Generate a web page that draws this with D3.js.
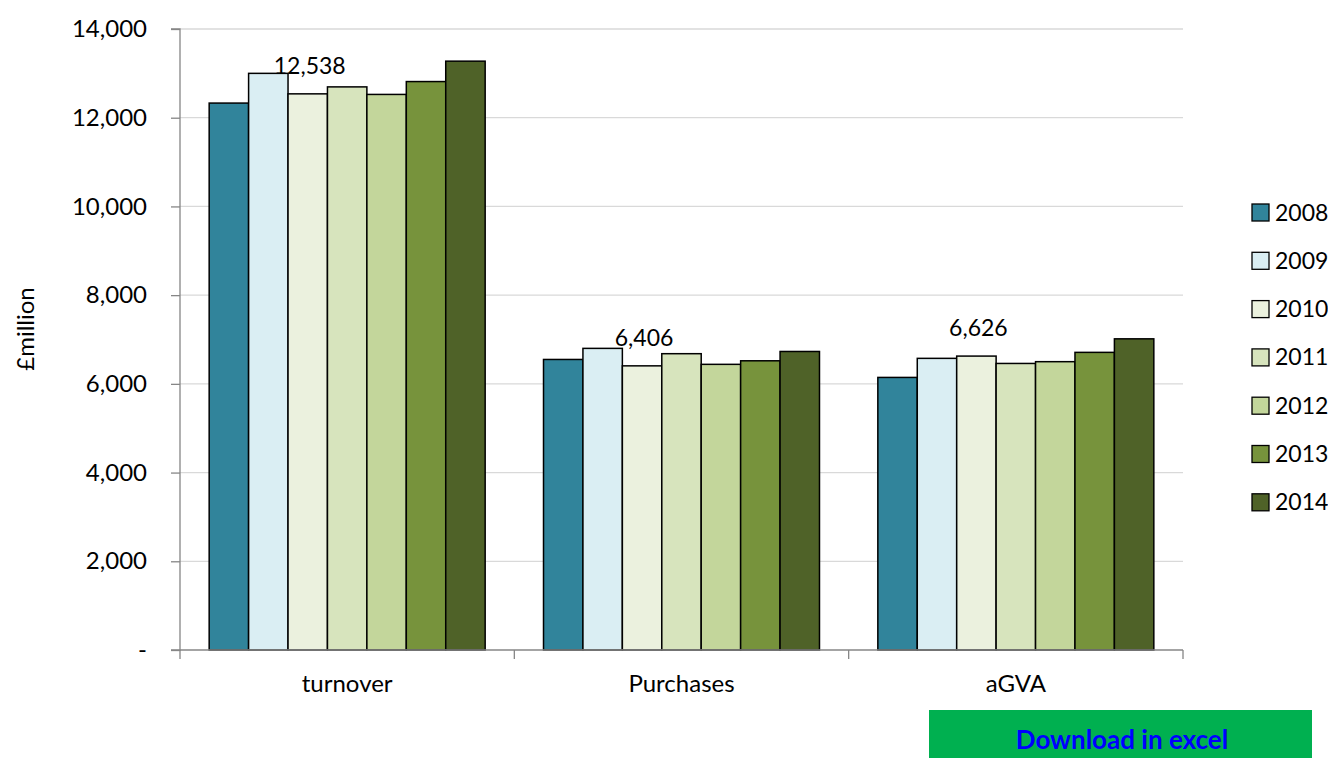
<!DOCTYPE html>
<html>
<head>
<meta charset="utf-8">
<script src="https://cdn.jsdelivr.net/npm/d3@7"></script>
<style>
  html, body { margin: 0; padding: 0; background: #fff; }
  svg { display: block; font-family: Lato, "Open Sans", sans-serif; }
</style>
</head>
<body>
<svg id="chart" width="1328" height="758"></svg>
<script>
const categories = ["turnover", "Purchases", "aGVA"];
const years = ["2008", "2009", "2010", "2011", "2012", "2013", "2014"];
const values2008 = [12330, 6550, 6145];
const values2009 = [13000, 6800, 6575];
const values2010 = [12538, 6406, 6626];
const values2011 = [12695, 6680, 6460];
const values2012 = [12525, 6440, 6500];
const values2013 = [12815, 6520, 6710];
const values2014 = [13275, 6730, 7015];
const seriesValues = [values2008, values2009, values2010, values2011, values2012, values2013, values2014];
const colors = ["#31849B", "#DAEEF3", "#EBF1DE", "#D7E4BD", "#C3D69B", "#77933C", "#4F6228"];
const yTicks = [0, 2000, 4000, 6000, 8000, 10000, 12000, 14000];
const labelledYear = "2010";

const svg = d3.select("#chart");
const pLeft = 180, pRight = 1183, pTop = 29, pBottom = 650;

const y = d3.scaleLinear().domain([0, 14000]).range([pBottom, pTop]);
const x0 = d3.scaleBand().domain(categories).range([pLeft, pRight]).padding(0);
const x1 = d3.scaleBand().domain(years).range([0, x0.bandwidth()]).paddingInner(0).paddingOuter(0.74);
const color = d3.scaleOrdinal().domain(years).range(colors);

// gridlines
svg.append("g").selectAll("line").data(yTicks.filter(d => d > 0)).join("line")
  .attr("x1", pLeft).attr("x2", pRight)
  .attr("y1", d => y(d)).attr("y2", d => y(d))
  .attr("stroke", "#D9D9D9").attr("stroke-width", 1.3);

// bars
const data = [];
categories.forEach((c, ci) => years.forEach((yr, yi) => data.push({cat: c, year: yr, value: seriesValues[yi][ci]})));

svg.append("g").selectAll("rect").data(data).join("rect")
  .attr("x", d => x0(d.cat) + x1(d.year))
  .attr("y", d => y(d.value))
  .attr("width", x1.bandwidth())
  .attr("height", d => y(0) - y(d.value))
  .attr("fill", d => color(d.year))
  .attr("stroke", "#000").attr("stroke-width", 1.5);

// data labels
svg.append("g").selectAll("text").data(data.filter(d => d.year === labelledYear)).join("text")
  .attr("x", d => x0(d.cat) + x1(d.year) + x1.bandwidth() / 2 + 2)
  .attr("y", d => y(d.value) - 20)
  .attr("text-anchor", "middle")
  .attr("font-size", 23).attr("fill", "#000")
  .text(d => d3.format(",")(d.value));

// y axis
const yAxis = d3.axisLeft(y).tickValues(yTicks).tickSize(9).tickPadding(24)
  .tickFormat(d => d === 0 ? "-" : d3.format(",")(d));
const gy = svg.append("g").attr("transform", `translate(${pLeft},0)`).call(yAxis);
gy.select(".domain").attr("stroke", "#868686").attr("stroke-width", 1.3).attr("d", `M-9,${pTop}H0V${pBottom}H-9`);
gy.selectAll(".tick line").attr("stroke", "#868686").attr("stroke-width", 1.3);
gy.selectAll(".tick text").attr("font-size", 24).attr("fill", "#000").attr("font-family", "Lato, sans-serif");

// x axis
const xAxis = d3.axisBottom(x0).tickSize(0).tickPadding(25);
const gx = svg.append("g").attr("transform", `translate(0,${pBottom})`).call(xAxis);
gx.select(".domain").attr("stroke", "#868686").attr("stroke-width", 1.3).attr("d", `M${pLeft},0H${pRight}`);
gx.selectAll(".tick text").attr("font-size", 24).attr("fill", "#000").attr("font-family", "Lato, sans-serif");
// category boundary ticks
svg.append("g").selectAll("line").data(categories.concat(["_end"])).join("line")
  .attr("x1", (d, i) => i < categories.length ? x0(d) : pRight)
  .attr("x2", (d, i) => i < categories.length ? x0(d) : pRight)
  .attr("y1", pBottom).attr("y2", pBottom + 9)
  .attr("stroke", "#868686").attr("stroke-width", 1.3);

// y axis title
svg.append("text")
  .attr("transform", `translate(34, 329) rotate(-90)`)
  .attr("text-anchor", "middle").attr("font-size", 24).attr("fill", "#000")
  .text("£million");

// legend
const legend = svg.append("g").selectAll("g").data(years).join("g")
  .attr("transform", (d, i) => `translate(1252, ${212.5 + i * 48.3})`);
legend.append("rect").attr("x", 0).attr("y", -8.5).attr("width", 17).attr("height", 17)
  .attr("fill", d => color(d)).attr("stroke", "#000").attr("stroke-width", 1.3);
legend.append("text").attr("x", 23).attr("y", 0).attr("dy", "0.35em")
  .attr("font-size", 23).attr("fill", "#000").text(d => d);

// download button
svg.append("rect").attr("x", 929).attr("y", 710).attr("width", 383).attr("height", 60).attr("fill", "#00B050");
svg.append("text").attr("x", 1122).attr("y", 749).attr("text-anchor", "middle")
  .attr("font-size", 26).attr("font-weight", "bold").attr("fill", "#0000FF")
  .text("Download in excel");
</script>
</body>
</html>
